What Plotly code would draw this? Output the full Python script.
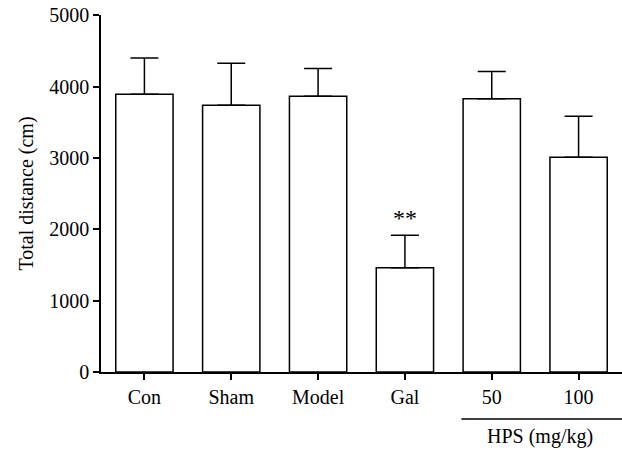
import plotly.graph_objects as go

categories = ["Con", "Sham", "Model", "Gal", "50", "100"]
means = [3893, 3739, 3865, 1461, 3830, 3011]
sem = [509, 588, 388, 457, 380, 574]
y_ticks = [0, 1000, 2000, 3000, 4000, 5000]
group_label = "HPS (mg/kg)"
sig_label = "**"
sig_index = 3

FONT = "Liberation Serif"
FS = 20
x_idx = list(range(len(categories)))

fig = go.Figure()
fig.add_trace(go.Bar(
    x=x_idx, y=means, width=0.66,
    marker=dict(color="white", line=dict(color="black", width=1.5)),
    error_y=dict(type="data", symmetric=False, array=sem, arrayminus=[0]*len(sem),
                 color="black", thickness=1.5, width=14),
    showlegend=False,
))

fig.add_annotation(x=sig_index, y=means[sig_index] + sem[sig_index], text=sig_label,
                   showarrow=False, yanchor="bottom", yshift=2,
                   font=dict(family=FONT, size=24, color="black"))

fig.add_shape(type="line", xref="x", yref="paper", x0=3.65, x1=5.5, y0=-0.132, y1=-0.132,
              line=dict(color="black", width=1.5))
fig.add_annotation(xref="paper", yref="paper", x=0.843, y=-0.182, text=group_label,
                   showarrow=False, yanchor="middle", xanchor="center",
                   font=dict(family=FONT, size=FS, color="black"))

fig.update_layout(
    width=622, height=450,
    margin=dict(l=101, r=0, t=15, b=78, autoexpand=False),
    paper_bgcolor="white", plot_bgcolor="white",
    font=dict(family=FONT, size=FS, color="black"),
)
fig.update_xaxes(range=[-0.5, 5.5], tickvals=x_idx, ticktext=categories,
                 automargin=False,
                 showline=True, linecolor="black", linewidth=1.5,
                 ticks="outside", ticklen=6, tickwidth=1.5, tickcolor="black",
                 showgrid=False, zeroline=False)
fig.update_yaxes(range=[0, 5003], tickvals=y_ticks, ticklabeloverflow="allow",
                 automargin=False,
                 showline=True, linecolor="black", linewidth=1.5,
                 ticks="outside", ticklen=6, tickwidth=1.5, tickcolor="black",
                 showgrid=False, zeroline=False,
                 title=dict(text="Total distance (cm)", standoff=10,
                            font=dict(family=FONT, size=FS)))

fig.write_html("out.html", config={"displayModeBar": False},
               post_script="document.body.style.margin='0';document.body.style.overflow='hidden';")
